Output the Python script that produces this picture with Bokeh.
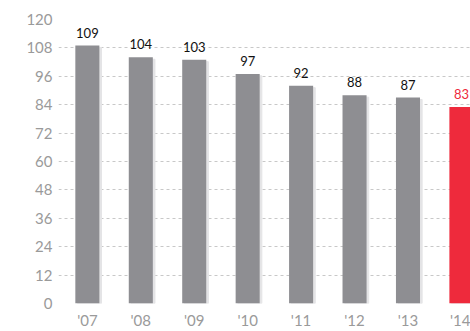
from bokeh.plotting import figure
from bokeh.models import Range1d, FixedTicker, ColumnDataSource
from bokeh.embed import file_html
from bokeh.resources import INLINE
from bokeh.core.properties import value

years = ["'07", "'08", "'09", "'10", "'11", "'12", "'13", "'14"]
values = [109, 104, 103, 97, 92, 88, 87, 83]
y_ticks = [0, 12, 24, 36, 48, 60, 72, 84, 96, 108, 120]

GRAY = "#8e8e92"
RED = "#ee2a3c"
FONT = "Lato"

xs = list(range(len(years)))
colors = [GRAY] * (len(years) - 1) + [RED]
label_colors = ["#111111"] * (len(years) - 1) + [RED]

src = ColumnDataSource(dict(
    x=xs, top=values, color=colors, lcolor=label_colors,
    label=[str(v) for v in values],
    xs=[x + 0.04 for x in xs], stop=[v - 0.8 for v in values],
))

p = figure(width=470, height=331, output_backend="svg", toolbar_location=None,
           x_range=Range1d(-0.54, 7.17), y_range=Range1d(0, 120),
           min_border_left=58, min_border_right=0, min_border_top=19, min_border_bottom=20)
p.outline_line_color = None
p.background_fill_color = "white"
p.border_fill_color = "white"

p.vbar(x="xs", top="stop", width=0.45, source=src, color="#e4e4e6")
p.vbar(x="x", top="top", width=0.45, source=src, fill_color="color", line_color=None)
p.text(x="x", y="top", text="label", source=src, text_color="lcolor",
       text_align="center", text_baseline="bottom", y_offset=-8,
       text_font=value(FONT), text_font_size="13px")

p.yaxis.ticker = FixedTicker(ticks=y_ticks)
p.xaxis.ticker = FixedTicker(ticks=xs)
p.xaxis.major_label_overrides = {i: y for i, y in enumerate(years)}
for ax in (p.xaxis[0], p.yaxis[0]):
    ax.axis_line_color = None
    ax.major_tick_line_color = None
    ax.minor_tick_line_color = None
    ax.major_tick_in = 0
    ax.major_tick_out = 0
    ax.minor_tick_in = 0
    ax.minor_tick_out = 0
    ax.major_label_text_color = "#9a9a9a"
    ax.major_label_text_font = FONT
    ax.major_label_text_font_size = "15px"
p.yaxis.major_label_standoff = 6
p.xaxis.major_label_standoff = 7

p.xgrid.grid_line_color = None
p.ygrid.grid_line_color = "#c8c8c8"
p.ygrid.grid_line_dash = "3 3"
p.ygrid.grid_line_width = 1

open("out.html", "w").write(file_html(p, INLINE))
